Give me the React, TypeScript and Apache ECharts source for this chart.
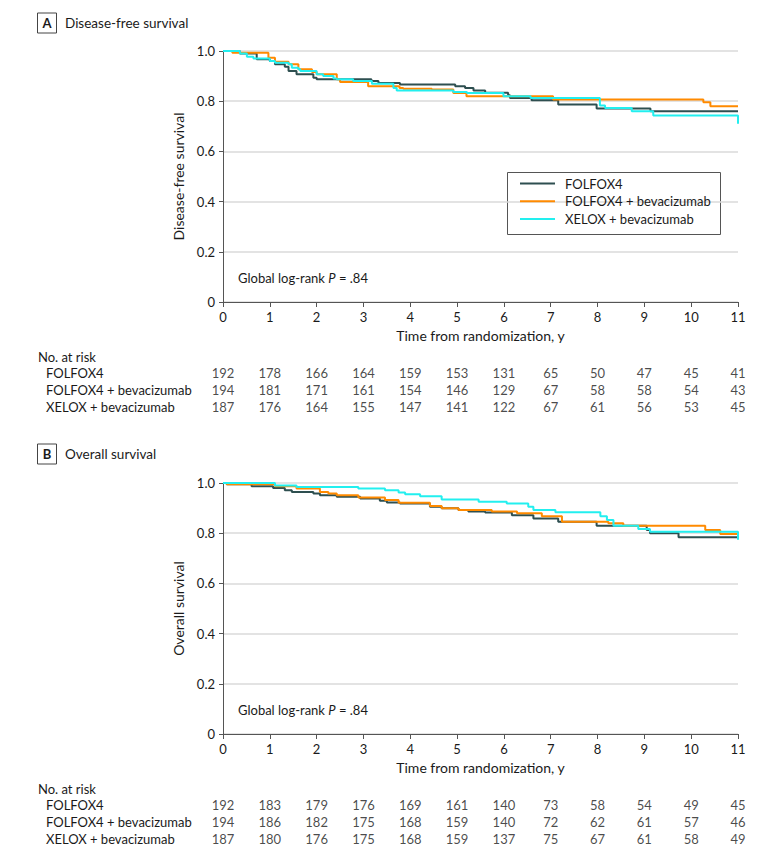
import React, { useEffect, useRef } from "react";
import * as echarts from "echarts";

const years = [0, 1, 2, 3, 4, 5, 6, 7, 8, 9, 10, 11];
const groupNames = ["FOLFOX4", "FOLFOX4 + bevacizumab", "XELOX + bevacizumab"];
const groupColors = ["#2e4f50", "#ff8a00", "#22efef"];

// Panel A: disease-free survival (time in years, survival probability)
const dfsFolfox4Time = [0, 0.36, 0.72, 1.0, 1.11, 1.32, 1.4, 1.57, 1.93, 2.0, 3.17, 3.32, 3.78, 4.96, 5.17, 5.35, 5.6, 6.09, 6.13, 6.59, 7.16, 7.98, 9.13, 11.0];
const dfsFolfox4Surv = [1.0, 0.99, 0.967, 0.96, 0.947, 0.937, 0.92, 0.907, 0.893, 0.887, 0.88, 0.873, 0.867, 0.86, 0.853, 0.843, 0.834, 0.824, 0.813, 0.804, 0.787, 0.771, 0.76, 0.76];
const dfsFolfoxBevTime = [0, 0.2, 0.97, 1.11, 1.4, 1.61, 1.9, 2.0, 2.43, 2.5, 3.1, 3.77, 3.85, 4.46, 4.92, 5.2, 7.05, 10.26, 10.41, 11.0];
const dfsFolfoxBevSurv = [1.0, 0.993, 0.973, 0.957, 0.947, 0.927, 0.916, 0.907, 0.887, 0.876, 0.86, 0.853, 0.85, 0.847, 0.833, 0.82, 0.807, 0.796, 0.78, 0.78];
const dfsXeloxBevTime = [0, 0.36, 0.51, 0.65, 1.0, 1.11, 1.4, 1.47, 1.61, 1.65, 2.0, 2.14, 2.36, 2.43, 2.78, 3.18, 3.64, 3.71, 4.92, 5.21, 5.99, 6.57, 8.05, 8.16, 8.73, 9.19, 11.0];
const dfsXeloxBevSurv = [1.0, 0.99, 0.977, 0.97, 0.96, 0.953, 0.947, 0.933, 0.927, 0.92, 0.907, 0.9, 0.89, 0.887, 0.88, 0.87, 0.853, 0.843, 0.837, 0.833, 0.82, 0.813, 0.783, 0.773, 0.76, 0.743, 0.71];

// Panel B: overall survival
const osFolfox4Time = [0, 0.08, 0.61, 1.07, 1.32, 1.47, 1.93, 2.07, 2.43, 2.93, 3.35, 3.5, 3.78, 4.42, 4.67, 5.03, 5.24, 5.6, 6.17, 6.63, 7.16, 7.98, 9.05, 9.12, 9.73, 11.0];
const osFolfox4Surv = [1.0, 0.995, 0.987, 0.98, 0.971, 0.964, 0.958, 0.951, 0.945, 0.938, 0.929, 0.922, 0.918, 0.905, 0.899, 0.892, 0.886, 0.882, 0.872, 0.859, 0.846, 0.83, 0.813, 0.8, 0.784, 0.784];
const osFolfoxBevTime = [0, 0.08, 1.11, 1.57, 2.07, 2.25, 2.43, 2.89, 3.46, 3.75, 4.42, 4.67, 5.03, 5.74, 6.28, 6.81, 7.24, 8.23, 8.55, 10.3, 10.62, 11.0];
const osFolfoxBevSurv = [1.0, 0.995, 0.987, 0.978, 0.964, 0.958, 0.951, 0.942, 0.932, 0.921, 0.908, 0.899, 0.892, 0.886, 0.879, 0.868, 0.846, 0.84, 0.83, 0.813, 0.797, 0.797];
const osXeloxBevTime = [0, 1.11, 1.57, 2.89, 3.46, 3.75, 3.89, 4.21, 4.67, 5.46, 6.06, 6.52, 6.63, 7.1, 8.06, 8.2, 8.34, 8.87, 9.12, 11.0];
const osXeloxBevSurv = [1.0, 0.99, 0.984, 0.978, 0.971, 0.962, 0.955, 0.947, 0.934, 0.925, 0.918, 0.905, 0.892, 0.883, 0.868, 0.853, 0.83, 0.817, 0.806, 0.774];

// Numbers at risk
const dfsRiskFolfox4 = [192, 178, 166, 164, 159, 153, 131, 65, 50, 47, 45, 41];
const dfsRiskFolfoxBev = [194, 181, 171, 161, 154, 146, 129, 67, 58, 58, 54, 43];
const dfsRiskXeloxBev = [187, 176, 164, 155, 147, 141, 122, 67, 61, 56, 53, 45];
const osRiskFolfox4 = [192, 183, 179, 176, 169, 161, 140, 73, 58, 54, 49, 45];
const osRiskFolfoxBev = [194, 186, 182, 175, 168, 159, 140, 72, 62, 61, 57, 46];
const osRiskXeloxBev = [187, 180, 176, 175, 168, 159, 137, 75, 67, 61, 58, 49];

const FONT = 'Lato, "Liberation Sans", sans-serif';
const TXT = "#1a1a1a";
const AXNAME = 14;
const WORD = 13;
const NUM = 13;

function pairs(t: number[], s: number[]) {
  return t.map((x, i) => [x, s[i]]);
}

function riskData(rows: number[][]) {
  const out: any[] = [];
  rows.forEach((row, r) => {
    row.forEach((n, i) => out.push([years[i], r, n]));
  });
  return out;
}

function plotAxes(gridIndex: number, yName: string) {
  const x = {
    type: "value",
    gridIndex,
    min: 0,
    max: 11,
    interval: 1,
    axisLine: { show: true, lineStyle: { color: "#555", width: 1 } },
    axisTick: { show: true, length: 5, lineStyle: { color: "#555" } },
    axisLabel: { fontFamily: FONT, fontSize: NUM, color: TXT, margin: 8 },
    splitLine: { show: false },
    name: "Time from randomization, y",
    nameLocation: "middle",
    nameGap: 26,
    nameTextStyle: { fontFamily: FONT, fontSize: AXNAME, color: TXT },
  };
  const y = {
    type: "value",
    gridIndex,
    min: 0,
    max: 1,
    interval: 0.2,
    axisLine: { show: true, lineStyle: { color: "#555", width: 1 } },
    axisTick: { show: true, length: 4, lineStyle: { color: "#555" } },
    axisLabel: {
      fontFamily: FONT,
      fontSize: NUM,
      color: TXT,
      margin: 8,
      formatter: (v: number) => (v === 0 ? "0" : v.toFixed(1)),
    },
    splitLine: { show: true, lineStyle: { color: "#dadada", width: 1.5 } },
    name: yName,
    nameLocation: "middle",
    nameGap: 31,
    nameTextStyle: { fontFamily: FONT, fontSize: AXNAME, color: TXT },
  };
  return { x, y };
}

function riskAxes(gridIndex: number) {
  const x = { type: "value", gridIndex, min: 0, max: 11, show: false };
  const y = {
    type: "category",
    gridIndex,
    data: groupNames,
    inverse: true,
    axisLine: { show: false },
    axisTick: { show: false },
    splitLine: { show: false },
    axisLabel: {
      interval: 0,
      hideOverlap: false,
      fontFamily: FONT,
      fontSize: WORD,
      color: TXT,
      align: "left",
      margin: 177,
    },
  };
  return { x, y };
}

function kmSeries(name: string, color: string, data: number[][], axisIndex: number) {
  return {
    type: "line",
    name,
    step: "end",
    symbol: "none",
    xAxisIndex: axisIndex,
    yAxisIndex: axisIndex,
    data,
    lineStyle: { color, width: 2 },
    itemStyle: { color },
    clip: false,
  };
}

function riskSeries(rows: number[][], axisIndex: number) {
  return {
    type: "scatter",
    name: "risk" + axisIndex,
    xAxisIndex: axisIndex,
    yAxisIndex: axisIndex,
    symbolSize: 1,
    itemStyle: { color: "rgba(0,0,0,0)" },
    data: riskData(rows),
    label: {
      show: true,
      position: "inside",
      formatter: (p: any) => String(p.value[2]),
      fontFamily: FONT,
      fontSize: NUM,
      color: TXT,
    },
  };
}

function header(letter: string, title: string, cy: number) {
  return [
    {
      type: "rect",
      shape: { x: 37.5, y: cy - 10, width: 19, height: 20 },
      style: { fill: "none", stroke: "#444", lineWidth: 1 },
    },
    {
      type: "text",
      x: 47,
      y: cy,
      style: {
        text: letter,
        textAlign: "center",
        textVerticalAlign: "middle",
        fontFamily: FONT,
        fontWeight: "bold",
        fontSize: 13,
        fill: TXT,
      },
    },
    {
      type: "text",
      x: 65,
      y: cy,
      style: {
        text: title,
        textVerticalAlign: "middle",
        fontFamily: FONT,
        fontSize: 13.5,
        fill: TXT,
      },
    },
  ];
}

function plainText(text: string, x: number, y: number, size = WORD) {
  return {
    type: "text",
    x,
    y,
    style: { text, textVerticalAlign: "middle", fontFamily: FONT, fontSize: size, fill: TXT },
  };
}

function pText(y: number) {
  return {
    type: "text",
    x: 238,
    y,
    style: {
      text: "Global log-rank {i|P} = .84",
      textVerticalAlign: "middle",
      fontFamily: FONT,
      fontSize: 13,
      fill: TXT,
      rich: { i: { fontStyle: "italic", fontFamily: FONT, fontSize: 13, fill: TXT } },
    },
  };
}

export default function App() {
  const ref = useRef<HTMLDivElement>(null);
  useEffect(() => {
    document.body.style.margin = "0";
    if (!ref.current) return;
    const chart = echarts.init(ref.current, null, { renderer: "svg" });
    const a = plotAxes(0, "Disease-free survival");
    const b = plotAxes(1, "Overall survival");
    const ra = riskAxes(2);
    const rb = riskAxes(3);
    const OFF = 432;
    chart.setOption({
      animation: false,
      backgroundColor: "#fff",
      textStyle: { fontFamily: FONT },
      grid: [
        { left: 223, top: 51, width: 515, height: 251 },
        { left: 223, top: 51 + OFF, width: 515, height: 251 },
        { left: 223, top: 365, width: 515, height: 50 },
        { left: 223, top: 365 + OFF, width: 515, height: 50 },
      ],
      xAxis: [a.x, b.x, ra.x, rb.x],
      yAxis: [a.y, b.y, ra.y, rb.y],
      legend: {
        data: groupNames,
        orient: "vertical",
        left: 520,
        top: 177,
        padding: 0,
        itemWidth: 35,
        itemHeight: 14,
        itemGap: 4.7,
        selectedMode: false,
        icon: "path://M0,0 L35,0 L35,2 L0,2 Z",
        textStyle: { fontFamily: FONT, fontSize: WORD, color: TXT, padding: [0, 0, 0, 5] },
      },
      series: [
        kmSeries(groupNames[0], groupColors[0], pairs(dfsFolfox4Time, dfsFolfox4Surv), 0),
        kmSeries(groupNames[1], groupColors[1], pairs(dfsFolfoxBevTime, dfsFolfoxBevSurv), 0),
        kmSeries(groupNames[2], groupColors[2], pairs(dfsXeloxBevTime, dfsXeloxBevSurv), 0),
        kmSeries(groupNames[0], groupColors[0], pairs(osFolfox4Time, osFolfox4Surv), 1),
        kmSeries(groupNames[1], groupColors[1], pairs(osFolfoxBevTime, osFolfoxBevSurv), 1),
        kmSeries(groupNames[2], groupColors[2], pairs(osXeloxBevTime, osXeloxBevSurv), 1),
        riskSeries([dfsRiskFolfox4, dfsRiskFolfoxBev, dfsRiskXeloxBev], 2),
        riskSeries([osRiskFolfox4, osRiskFolfoxBev, osRiskXeloxBev], 3),
      ],
      graphic: [
        ...header("A", "Disease-free survival", 23),
        ...header("B", "Overall survival", 23 + 431),
        {
          type: "rect",
          shape: { x: 507.5, y: 172.5, width: 213, height: 62 },
          style: { fill: "none", stroke: "#555", lineWidth: 1 },
        },
        pText(278),
        pText(278 + OFF),
        plainText("No. at risk", 38, 357),
        plainText("No. at risk", 38, 357 + OFF),
      ],
    });
    return () => chart.dispose();
  }, []);
  return <div ref={ref} style={{ width: 780, height: 856 }} />;
}
